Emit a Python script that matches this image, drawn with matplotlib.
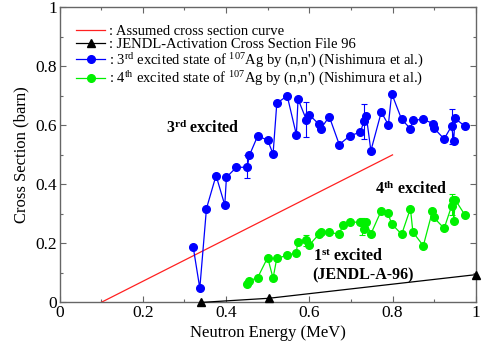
import matplotlib
matplotlib.use("Agg")
import matplotlib.pyplot as plt
import numpy as np
from matplotlib.ticker import MultipleLocator, FuncFormatter

plt.rcParams['font.family'] = ['Liberation Serif', 'DejaVu Serif']
plt.rcParams['mathtext.fontset'] = 'custom'
plt.rcParams['mathtext.rm'] = 'Liberation Serif'
plt.rcParams['mathtext.it'] = 'Liberation Serif:italic'
plt.rcParams['mathtext.bf'] = 'Liberation Serif:bold'

# assumed cross section curve
assumed_x = [0.1, 0.8]
assumed_y = [0.0, 0.5]

# JENDL-Activation cross section file 96
jendl_x = [0.341, 0.503, 1.0]
jendl_y = [0.0, 0.014, 0.094]

# 3rd excited state (blue)
ex3_x = [0.321, 0.337, 0.353, 0.376, 0.397, 0.401, 0.425, 0.451, 0.456, 0.476,
         0.500, 0.513, 0.522, 0.547, 0.569, 0.573, 0.593, 0.600, 0.623, 0.627,
         0.648, 0.672, 0.698, 0.723, 0.731, 0.737, 0.748, 0.773, 0.790, 0.798,
         0.822, 0.843, 0.849, 0.874, 0.898, 0.900, 0.924, 0.942, 0.947, 0.950,
         0.974]
ex3_y = [0.189, 0.048, 0.318, 0.430, 0.330, 0.424, 0.458, 0.458, 0.498, 0.564,
         0.550, 0.503, 0.675, 0.700, 0.568, 0.689, 0.619, 0.636, 0.604, 0.587,
         0.630, 0.535, 0.565, 0.577, 0.614, 0.632, 0.514, 0.645, 0.602, 0.708,
         0.620, 0.589, 0.618, 0.620, 0.606, 0.590, 0.554, 0.598, 0.547, 0.624,
         0.597]
err3_x = [0.451, 0.593, 0.731, 0.942]
err3_y = [0.460, 0.620, 0.613, 0.596]
err3_e = [0.040, 0.060, 0.060, 0.059]

# 4th excited state (green)
ex4_x = [0.451, 0.456, 0.476, 0.500, 0.513, 0.522, 0.547, 0.569, 0.572, 0.593,
         0.599, 0.624, 0.628, 0.647, 0.672, 0.681, 0.698, 0.723, 0.731, 0.736,
         0.748, 0.773, 0.789, 0.798, 0.822, 0.843, 0.849, 0.874, 0.896, 0.899,
         0.924, 0.942, 0.946, 0.947, 0.951, 0.974]
ex4_y = [0.063, 0.073, 0.084, 0.152, 0.082, 0.150, 0.159, 0.169, 0.204, 0.210,
         0.193, 0.232, 0.238, 0.238, 0.231, 0.263, 0.272, 0.272, 0.248, 0.274,
         0.232, 0.311, 0.302, 0.266, 0.231, 0.318, 0.238, 0.192, 0.310, 0.288,
         0.251, 0.327, 0.347, 0.277, 0.347, 0.296]
err4_x = [0.593, 0.727, 0.942]
err4_y = [0.210, 0.257, 0.332]
err4_e = [0.019, 0.028, 0.035]

blue = '#0000ff'
green = '#00f000'

fig = plt.figure(figsize=(4.84, 3.5), dpi=100)
ax = fig.add_axes([0.123, 0.136, 0.860, 0.843])

ax.plot(assumed_x, assumed_y, color='#ff2020', lw=0.9,
        label=': Assumed cross section curve')
ax.plot(jendl_x, jendl_y, color='black', lw=0.9, marker='^', ms=5.5,
        label=': JENDL-Activation Cross Section File 96', clip_on=False, zorder=5)
ax.plot(ex3_x, ex3_y, color=blue, lw=0.9, marker='o', ms=5.5,
        label=": 3$^{\\mathrm{rd}}$ excited state of $^{\\mathrm{107}}$Ag by (n,n') (Nishimura et al.)")
ax.plot(ex4_x, ex4_y, color=green, lw=0.9, marker='o', ms=5.5,
        label=": 4$^{\\mathrm{th}}$ excited state of $^{\\mathrm{107}}$Ag by (n,n') (Nishimura et al.)")
ax.errorbar(err3_x, err3_y, yerr=err3_e, fmt='none', ecolor=blue, elinewidth=0.8,
            capsize=2.5, capthick=0.8)
ax.errorbar(err4_x, err4_y, yerr=err4_e, fmt='none', ecolor=green, elinewidth=0.8,
            capsize=2.5, capthick=0.8)

ax.text(0.256, 0.59, "3$^{\\mathbf{rd}}$ excited", fontsize=11.5, fontweight='bold', va='center')
ax.text(0.757, 0.384, "4$^{\\mathbf{th}}$ excited", fontsize=11.5, fontweight='bold', va='center')
ax.text(0.609, 0.154, "1$^{\\mathbf{st}}$ excited", fontsize=11.5, fontweight='bold', va='center')
ax.text(0.607, 0.093, "(JENDL-A-96)", fontsize=11.5, fontweight='bold', va='center')

ax.set_xlim(0, 1)
ax.set_ylim(0, 1)
ax.xaxis.set_major_locator(MultipleLocator(0.2))
ax.xaxis.set_minor_locator(MultipleLocator(0.1))
ax.yaxis.set_major_locator(MultipleLocator(0.2))
ax.yaxis.set_minor_locator(MultipleLocator(0.1))
fmt = FuncFormatter(lambda v, p: '%g' % round(v, 2))
ax.xaxis.set_major_formatter(fmt)
ax.yaxis.set_major_formatter(fmt)

spine_col = '#666666'
for s in ax.spines.values():
    s.set_color(spine_col)
    s.set_linewidth(1.0)
ax.tick_params(which='both', direction='in', top=True, right=True, colors=spine_col,
               labelcolor='black', labelsize=12.5)
ax.tick_params(which='major', length=4, width=0.8, pad=2)
ax.tick_params(which='minor', length=2.5, width=0.8)

ax.set_xlabel('Neutron Energy (MeV)', fontsize=12, labelpad=3)
ax.set_ylabel('Cross Section (barn)', fontsize=12, labelpad=4)

ax.legend(loc='upper left', bbox_to_anchor=(0.04, 0.94), frameon=False, fontsize=10.5,
          handlelength=2.0, handletextpad=0.25, labelspacing=0.0, borderaxespad=0.0,
          borderpad=0.0)

fig.savefig('out.png', dpi=100)
